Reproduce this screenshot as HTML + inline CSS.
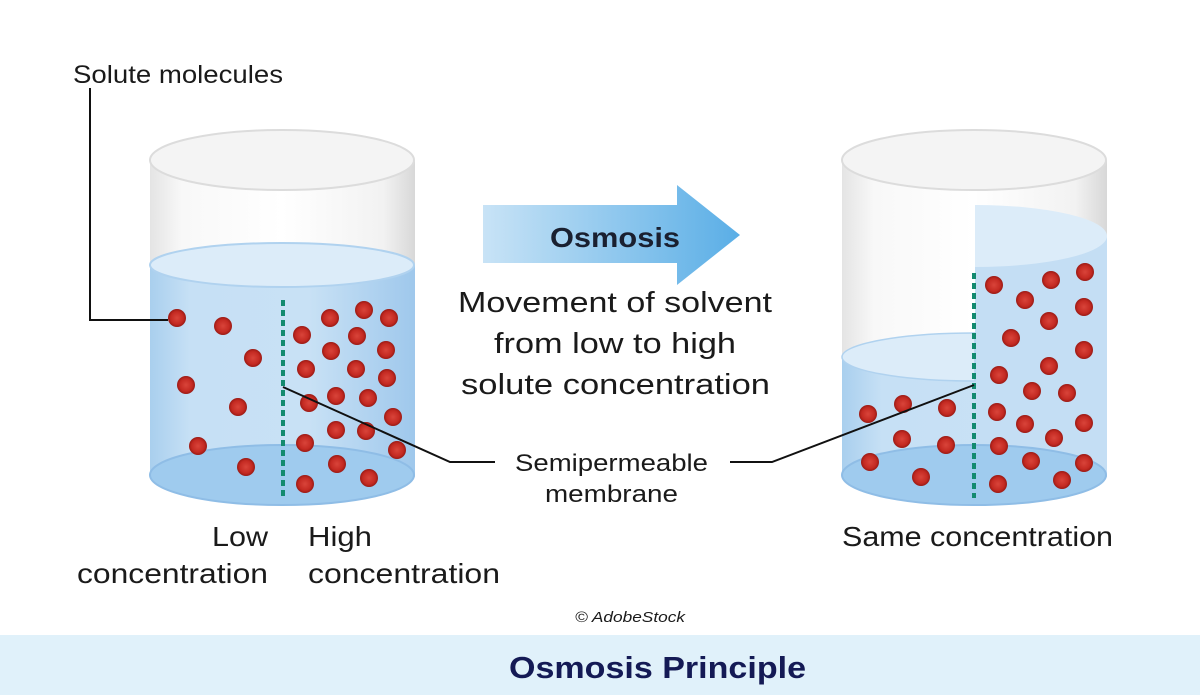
<!DOCTYPE html>
<html><head><meta charset="utf-8"><style>
html,body{margin:0;padding:0;background:#fff;}
svg{display:block;}
</style></head><body>
<svg width="1200" height="695" viewBox="0 0 1200 695" xmlns="http://www.w3.org/2000/svg">
<defs>
<linearGradient id="glass" x1="0" x2="1" y1="0" y2="0">
<stop offset="0" stop-color="#e4e4e4"/><stop offset="0.12" stop-color="#f8f8f8"/><stop offset="0.5" stop-color="#ffffff"/><stop offset="0.88" stop-color="#f2f2f2"/><stop offset="1" stop-color="#d8d8d8"/>
</linearGradient>
<linearGradient id="water" x1="0" x2="1" y1="0" y2="0">
<stop offset="0" stop-color="#a9cfee"/><stop offset="0.15" stop-color="#c6e0f5"/><stop offset="0.6" stop-color="#c8e1f5"/><stop offset="1" stop-color="#9fc8ec"/>
</linearGradient>
<linearGradient id="arrow" x1="0" x2="1" y1="0" y2="0">
<stop offset="0" stop-color="#c8e3f6"/><stop offset="1" stop-color="#5aaee6"/>
</linearGradient>
<radialGradient id="dot" cx="0.5" cy="0.5" r="0.5">
<stop offset="0" stop-color="#d9443a"/><stop offset="0.7" stop-color="#c42a22"/><stop offset="1" stop-color="#9a1a14"/>
</radialGradient>
</defs>

<path d="M150,160 L150,475 A132,30 0 0 0 415,475 L415,160 Z" fill="url(#glass)"/>
<ellipse cx="282" cy="160" rx="132" ry="30" fill="#f4f4f4" stroke="#dcdcdc" stroke-width="2"/>
<path d="M150,265 L150,475 A132,30 0 0 0 415,475 L415,265 Z" fill="url(#water)"/>
<ellipse cx="282" cy="475" rx="132" ry="30" fill="#9fcbee" stroke="#8fbde6" stroke-width="2"/>
<ellipse cx="282" cy="265" rx="132" ry="22" fill="#dcecf9" stroke="#b0d2ef" stroke-width="2"/>

<path d="M842,160 L842,475 A132,30 0 0 0 1107,475 L1107,160 Z" fill="url(#glass)"/>
<ellipse cx="974" cy="160" rx="132" ry="30" fill="#f4f4f4" stroke="#dcdcdc" stroke-width="2"/>
<path d="M842,357 L842,475 A132,30 0 0 0 1107,475 L1107,357 Z" fill="url(#water)"/>
<path d="M975,205 L975,475 L1107,475 L1107,237 Z" fill="#c4def4"/>
<path d="M975,205 A132,31 0 0 1 1107,236 A132,31 0 0 1 975,267 Z" fill="#dcecf9"/>
<ellipse cx="974" cy="475" rx="132" ry="30" fill="#9fcbee" stroke="#8fbde6" stroke-width="2"/>
<path d="M975,333 A132,24 0 0 0 842,357 A132,24 0 0 0 975,381 Z" fill="#dcecf9" stroke="#b0d2ef" stroke-width="1.5"/>

<line x1="283" y1="300" x2="283" y2="498" stroke="#138a6f" stroke-width="4" stroke-dasharray="6,4"/>
<line x1="974" y1="273" x2="974" y2="498" stroke="#138a6f" stroke-width="4" stroke-dasharray="6,4"/>

<g fill="url(#dot)">
<circle cx="177" cy="318" r="9"/><circle cx="223" cy="326" r="9"/><circle cx="253" cy="358" r="9"/><circle cx="186" cy="385" r="9"/><circle cx="238" cy="407" r="9"/><circle cx="198" cy="446" r="9"/><circle cx="246" cy="467" r="9"/>
<circle cx="330" cy="318" r="9"/><circle cx="364" cy="310" r="9"/><circle cx="389" cy="318" r="9"/><circle cx="302" cy="335" r="9"/><circle cx="357" cy="336" r="9"/><circle cx="386" cy="350" r="9"/><circle cx="331" cy="351" r="9"/><circle cx="306" cy="369" r="9"/><circle cx="356" cy="369" r="9"/><circle cx="387" cy="378" r="9"/><circle cx="309" cy="403" r="9"/><circle cx="336" cy="396" r="9"/><circle cx="368" cy="398" r="9"/><circle cx="393" cy="417" r="9"/><circle cx="336" cy="430" r="9"/><circle cx="366" cy="431" r="9"/><circle cx="305" cy="443" r="9"/><circle cx="397" cy="450" r="9"/><circle cx="337" cy="464" r="9"/><circle cx="369" cy="478" r="9"/><circle cx="305" cy="484" r="9"/>
<circle cx="868" cy="414" r="9"/><circle cx="903" cy="404" r="9"/><circle cx="947" cy="408" r="9"/><circle cx="902" cy="439" r="9"/><circle cx="946" cy="445" r="9"/><circle cx="870" cy="462" r="9"/><circle cx="921" cy="477" r="9"/>
<circle cx="994" cy="285" r="9"/><circle cx="1025" cy="300" r="9"/><circle cx="1051" cy="280" r="9"/><circle cx="1085" cy="272" r="9"/><circle cx="1084" cy="307" r="9"/><circle cx="1049" cy="321" r="9"/><circle cx="1011" cy="338" r="9"/><circle cx="1084" cy="350" r="9"/><circle cx="1049" cy="366" r="9"/><circle cx="999" cy="375" r="9"/><circle cx="1032" cy="391" r="9"/><circle cx="1067" cy="393" r="9"/><circle cx="997" cy="412" r="9"/><circle cx="1025" cy="424" r="9"/><circle cx="1054" cy="438" r="9"/><circle cx="1084" cy="423" r="9"/><circle cx="999" cy="446" r="9"/><circle cx="1031" cy="461" r="9"/><circle cx="1084" cy="463" r="9"/><circle cx="998" cy="484" r="9"/><circle cx="1062" cy="480" r="9"/>
</g>

<polyline points="90,88 90,320 168,320" fill="none" stroke="#111" stroke-width="2"/>
<polyline points="283,387 450,462 495,462" fill="none" stroke="#111" stroke-width="2"/>
<polyline points="730,462 772,462 974,385" fill="none" stroke="#111" stroke-width="2"/>

<path d="M483,205 L677,205 L677,185 L740,235 L677,285 L677,263 L483,263 Z" fill="url(#arrow)"/>

<g font-family="Liberation Sans, sans-serif" fill="#1a1a1a" lengthAdjust="spacingAndGlyphs">
<text x="550" y="247" font-size="28" font-weight="bold" fill="#1a2030" textLength="130" lengthAdjust="spacingAndGlyphs">Osmosis</text>
<text x="458" y="312" font-size="29" textLength="314" lengthAdjust="spacingAndGlyphs">Movement of solvent</text>
<text x="494" y="353" font-size="29" textLength="242" lengthAdjust="spacingAndGlyphs">from low to high</text>
<text x="461" y="394" font-size="29" textLength="309" lengthAdjust="spacingAndGlyphs">solute concentration</text>
<text x="73" y="83" font-size="25" textLength="210" lengthAdjust="spacingAndGlyphs">Solute molecules</text>
<text x="515" y="471" font-size="24" textLength="193" lengthAdjust="spacingAndGlyphs">Semipermeable</text>
<text x="545" y="502" font-size="24" textLength="133" lengthAdjust="spacingAndGlyphs">membrane</text>
<text x="212" y="546" font-size="28" textLength="56" lengthAdjust="spacingAndGlyphs">Low</text>
<text x="77" y="583" font-size="28" textLength="191" lengthAdjust="spacingAndGlyphs">concentration</text>
<text x="308" y="546" font-size="28" textLength="64" lengthAdjust="spacingAndGlyphs">High</text>
<text x="308" y="583" font-size="28" textLength="192" lengthAdjust="spacingAndGlyphs">concentration</text>
<text x="842" y="546" font-size="28" textLength="271" lengthAdjust="spacingAndGlyphs">Same concentration</text>
<text x="575" y="622" font-size="15" font-style="italic" textLength="110" lengthAdjust="spacingAndGlyphs">© AdobeStock</text>
</g>

<rect x="0" y="635" width="1200" height="60" fill="#e0f1fa"/>
<text x="509" y="678" font-family="Liberation Sans, sans-serif" font-size="31" font-weight="bold" fill="#141a55" textLength="297" lengthAdjust="spacingAndGlyphs">Osmosis Principle</text>
</svg>
</body></html>
